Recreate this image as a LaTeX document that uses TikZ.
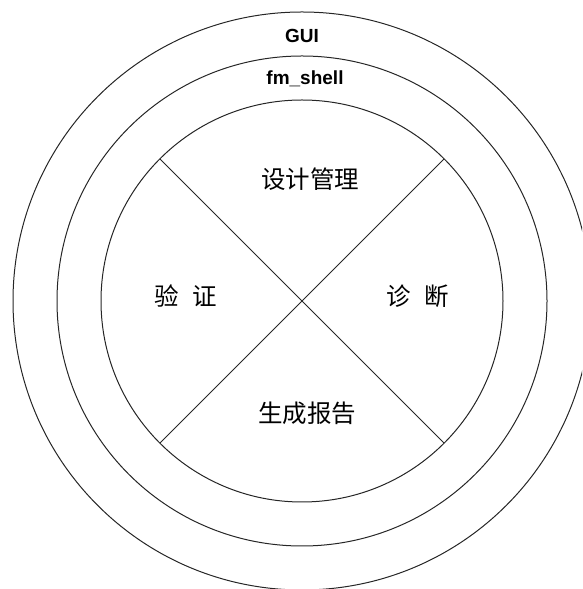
\documentclass[tikz,border=0pt]{standalone}
\usepackage{fontspec}
\usetikzlibrary{calc}
\setmainfont{Liberation Sans}
\newfontfamily\cjk{Noto Sans CJK SC}
\begin{document}
\begin{tikzpicture}[x=1pt,y=1pt,
  ring/.style={draw=black!85, line width=1pt},
  divline/.style={draw=black!85, line width=0.9pt},
  latinlabel/.style={inner sep=0pt, font=\fontsize{19}{19}\selectfont\bfseries},
  cjklabel/.style={inner sep=0pt, font=\fontsize{24.5}{24.5}\selectfont\cjk}]
\useasboundingbox (0,0) rectangle (582,589);
\clip (0,0) rectangle (582,589);
\coordinate (c) at (302,288);
\draw[ring] (c) circle[radius=289];
\draw[ring] (c) circle[radius=245];
\draw[ring] (c) circle[radius=201];
\coordinate (ne) at ($(c)+(45:201)$);
\coordinate (nw) at ($(c)+(135:201)$);
\coordinate (sw) at ($(c)+(225:201)$);
\coordinate (se) at ($(c)+(315:201)$);
\draw[divline] (nw) -- (se);
\draw[divline] (ne) -- (sw);
\node[latinlabel] (gui) at (302,553) {GUI};
\node[latinlabel] (shell) at (305,510) {fm\_shell};
\node[cjklabel] (design) at (310,410) {设计管理};
\node[cjklabel] (verify) at (186,293) {验\hspace{14pt}证};
\node[cjklabel] (diag) at (418,293) {诊\hspace{14pt}断};
\node[cjklabel] (report) at (307,176) {生成报告};
\end{tikzpicture}
\end{document}
